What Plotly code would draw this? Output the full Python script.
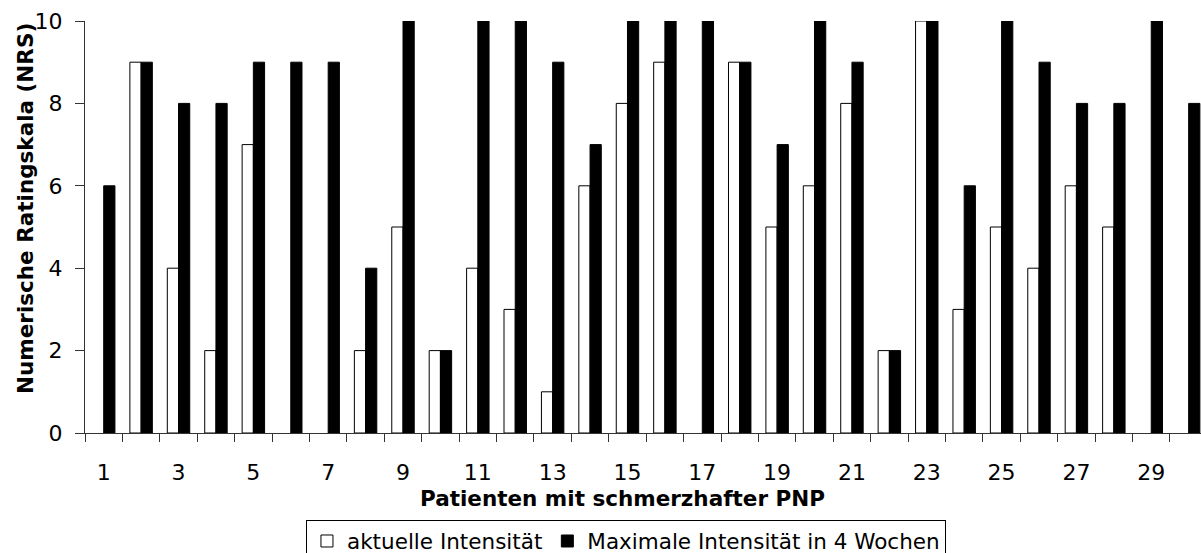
import plotly.graph_objects as go

# ---- data -----------------------------------------------------------
patients = list(range(1, 31))
aktuell = [0, 9, 4, 2, 7, 0, 0, 2, 5, 2, 4, 3, 1, 6, 8, 9, 0, 9, 5, 6, 8, 2, 10, 3, 5, 4, 6, 5, 0, 0]
maximal = [6, 9, 8, 8, 9, 9, 9, 4, 10, 2, 10, 10, 9, 7, 10, 10, 10, 9, 7, 10, 9, 2, 10, 6, 10, 9, 8, 8, 10, 8]
x_tickvals = list(range(1, 30, 2))
x_ticktext = [str(v) for v in x_tickvals]
y_tickvals = [0, 2, 4, 6, 8, 10]
series_names = ["aktuelle Intensität", "Maximale Intensität in 4 Wochen"]
x_title = "Patienten mit schmerzhafter PNP"
y_title = "Numerische Ratingskala (NRS)"

FONT = "DejaVu Sans"
AXIS = "#333333"


def bar_trace(values, name, fill):
    # list non-empty bars first so the legend swatch takes a visible outline;
    # empty (zero-height) bars get no outline, as in the reference
    order = sorted(range(len(values)), key=lambda i: values[i] == 0)
    return go.Bar(
        x=[patients[i] for i in order],
        y=[values[i] for i in order],
        name=name,
        marker=dict(color=fill,
                    line=dict(color="black",
                              width=[0 if values[i] == 0 else 1 for i in order])),
    )


fig = go.Figure()
fig.add_trace(bar_trace(aktuell, series_names[0], "white"))
fig.add_trace(bar_trace(maximal, series_names[1], "black"))

fig.update_layout(
    width=1201, height=553,
    margin=dict(l=85, r=0, t=21, b=120, autoexpand=False),
    paper_bgcolor="white", plot_bgcolor="white",
    barmode="group", bargap=0.4, bargroupgap=0,
    font=dict(family=FONT, size=22, color="black"),
    showlegend=True,
    legend=dict(
        orientation="h", x=0.198, xanchor="left", y=-0.21, yanchor="top",
        bordercolor="black", borderwidth=1, bgcolor="white",
        font=dict(family=FONT, size=21.5, color="black"), traceorder="normal",
    ),
    annotations=[
        dict(text="<b>" + x_title + "</b>", xref="paper", yref="paper",
             x=0.4816, y=-0.158, xanchor="center", yanchor="middle",
             showarrow=False, font=dict(family=FONT, size=21.5, color="black")),
        dict(text="<b>" + y_title + "</b>", xref="paper", yref="paper",
             x=-0.0538, y=0.546, xanchor="center", yanchor="middle", textangle=-90,
             showarrow=False, font=dict(family=FONT, size=21.5, color="black")),
    ],
)

fig.update_xaxes(
    range=[0.5, 30.33],
    tickmode="array", tickvals=x_tickvals, ticktext=x_ticktext,
    ticks="", showline=True, linecolor=AXIS, linewidth=1,
    showgrid=False, zeroline=False, ticklabelstandoff=20,
    minor=dict(tickmode="linear", tick0=0.5, dtick=1, ticks="outside",
               ticklen=8, tickcolor=AXIS, tickwidth=1, showgrid=False),
)
fig.update_yaxes(
    range=[0, 10], tickmode="array", tickvals=y_tickvals,
    ticks="outside", ticklen=9, tickcolor=AXIS, tickwidth=1,
    showline=True, linecolor=AXIS, linewidth=1,
    showgrid=False, zeroline=False, ticklabelstandoff=8,
)

fig.write_html("out.html")
